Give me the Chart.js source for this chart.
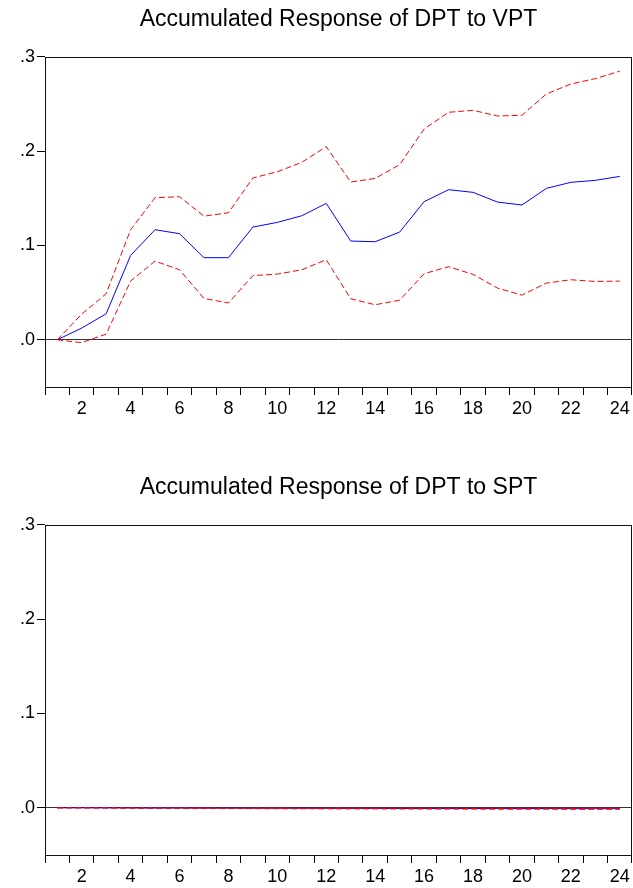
<!DOCTYPE html>
<html>
<head>
<meta charset="utf-8">
<script src="https://cdn.jsdelivr.net/npm/chart.js@4/dist/chart.umd.min.js"></script>
<style>
  html, body { margin: 0; padding: 0; background: #fff; overflow: hidden; }
  .box { position: absolute; left: 0; width: 633px; }
  #boxTop { top: 0; height: 440px; }
  #boxBottom { top: 468px; height: 420px; }
</style>
</head>
<body>
<div class="box" id="boxTop"><canvas id="vptChart"></canvas></div>
<div class="box" id="boxBottom"><canvas id="sptChart"></canvas></div>
<script>
// periods 1..24
const periods = ['1','2','3','4','5','6','7','8','9','10','11','12','13','14','15','16','17','18','19','20','21','22','23','24'];
const yTicks = [0, 0.1, 0.2, 0.3];

// DPT to VPT (accumulated response + upper/lower bands)
const vptResp  = [0, 0.0124, 0.0276, 0.0894, 0.1166, 0.1124, 0.087, 0.087, 0.1194, 0.1244, 0.1314, 0.1445,
                  0.1046, 0.1039, 0.1141, 0.1463, 0.159, 0.1562, 0.1459, 0.1428, 0.1604, 0.1668, 0.1689, 0.1731];
const vptUpper = [0, 0.0272, 0.0488, 0.1166, 0.1505, 0.1516, 0.131, 0.1346, 0.1714, 0.178, 0.188, 0.2046,
                  0.1671, 0.171, 0.1855, 0.2233, 0.241, 0.2431, 0.2371, 0.2378, 0.2604, 0.271, 0.2767, 0.2845];
const vptLower = [0, -0.003, 0.006, 0.0622, 0.0834, 0.0742, 0.0438, 0.039, 0.068, 0.0696, 0.0742, 0.0848,
                  0.0435, 0.0371, 0.042, 0.07, 0.0774, 0.0693, 0.0548, 0.0473, 0.0601, 0.0636, 0.0618, 0.0622];

// DPT to SPT (all close to zero)
const sptResp  = [0, 0, -0.0001, -0.0002, -0.0003, -0.0003, -0.0004, -0.0004, -0.0005, -0.0005, -0.0005, -0.0006,
                  -0.0006, -0.0006, -0.0007, -0.0007, -0.0007, -0.0008, -0.0008, -0.0008, -0.0008, -0.0009, -0.0009, -0.0009];
const sptUpper = [0, 0, 0, -0.0001, -0.0001, -0.0001, -0.0002, -0.0002, -0.0002, -0.0002, -0.0003, -0.0003,
                  -0.0003, -0.0003, -0.0003, -0.0003, -0.0004, -0.0004, -0.0004, -0.0004, -0.0004, -0.0004, -0.0004, -0.0004];
const sptLower = [0, -0.0001, -0.0002, -0.0004, -0.0005, -0.0006, -0.0007, -0.0008, -0.0009, -0.0010, -0.0010, -0.0011,
                  -0.0012, -0.0012, -0.0013, -0.0013, -0.0014, -0.0014, -0.0015, -0.0015, -0.0015, -0.0016, -0.0016, -0.0016];

const FONT = 'Liberation Sans, Arial, sans-serif';

// box round the plot area
const frame = {
  id: 'frame',
  afterDraw(chart) {
    const a = chart.chartArea, c = chart.ctx;
    c.save();
    c.strokeStyle = '#111';
    c.lineWidth = 1;
    c.strokeRect(Math.round(a.left) + 0.5, Math.round(a.top) + 0.5,
                 Math.round(a.right - a.left) - 1, Math.round(a.bottom - a.top));
    c.restore();
  }
};

function makeChart(id, title, resp, upper, lower, h) {
  return new Chart(document.getElementById(id), {
    type: 'line',
    data: {
      labels: periods,
      datasets: [
        { data: upper, borderColor: '#ff0000', borderWidth: 1, borderDash: [6, 3], pointRadius: 0, tension: 0 },
        { data: lower, borderColor: '#ff0000', borderWidth: 1, borderDash: [6, 3], pointRadius: 0, tension: 0 },
        { data: resp,  borderColor: '#0000ff', borderWidth: 1, pointRadius: 0, tension: 0 }
      ]
    },
    options: {
      responsive: true,
      maintainAspectRatio: false,
      animation: false,
      layout: { padding: { left: 0, right: 1, top: 0, bottom: 0 } },
      plugins: {
        legend: { display: false },
        tooltip: { enabled: false },
        title: {
          display: true,
          text: title,
          fullSize: false,
          color: '#000',
          font: { family: FONT, size: 23, weight: 'normal' },
          padding: { top: 6, bottom: 23 }
        }
      },
      scales: {
        x: {
          offset: true,
          border: { display: false },
          grid: { offset: true, drawOnChartArea: false, drawTicks: true, tickLength: 8, tickColor: '#000' },
          ticks: {
            color: '#000',
            autoSkip: false,
            maxRotation: 0,
            padding: 3,
            font: { family: FONT, size: 18 },
            callback: (v, i) => (i + 1) % 2 === 0 ? periods[i] : ''
          },
          afterFit: s => { s.height = h - 387; }
        },
        y: {
          min: -0.05,
          max: 0.3,
          border: { display: false },
          afterBuildTicks: s => { s.ticks = yTicks.map(v => ({ value: v })); },
          afterFit: s => { s.width = 45; },
          grid: {
            drawTicks: true,
            tickLength: 8,
            tickColor: '#000',
            color: ctx => (ctx.tick && ctx.tick.value === 0) ? '#333' : 'rgba(0,0,0,0)'
          },
          ticks: {
            color: '#000',
            padding: 2,
            font: { family: FONT, size: 18 },
            callback: v => v.toFixed(1).replace(/^0/, '')
          }
        }
      }
    },
    plugins: [frame]
  });
}

makeChart('vptChart', 'Accumulated Response of DPT to VPT', vptResp, vptUpper, vptLower, 440);
makeChart('sptChart', 'Accumulated Response of DPT to SPT', sptResp, sptUpper, sptLower, 420);
</script>
</body>
</html>
